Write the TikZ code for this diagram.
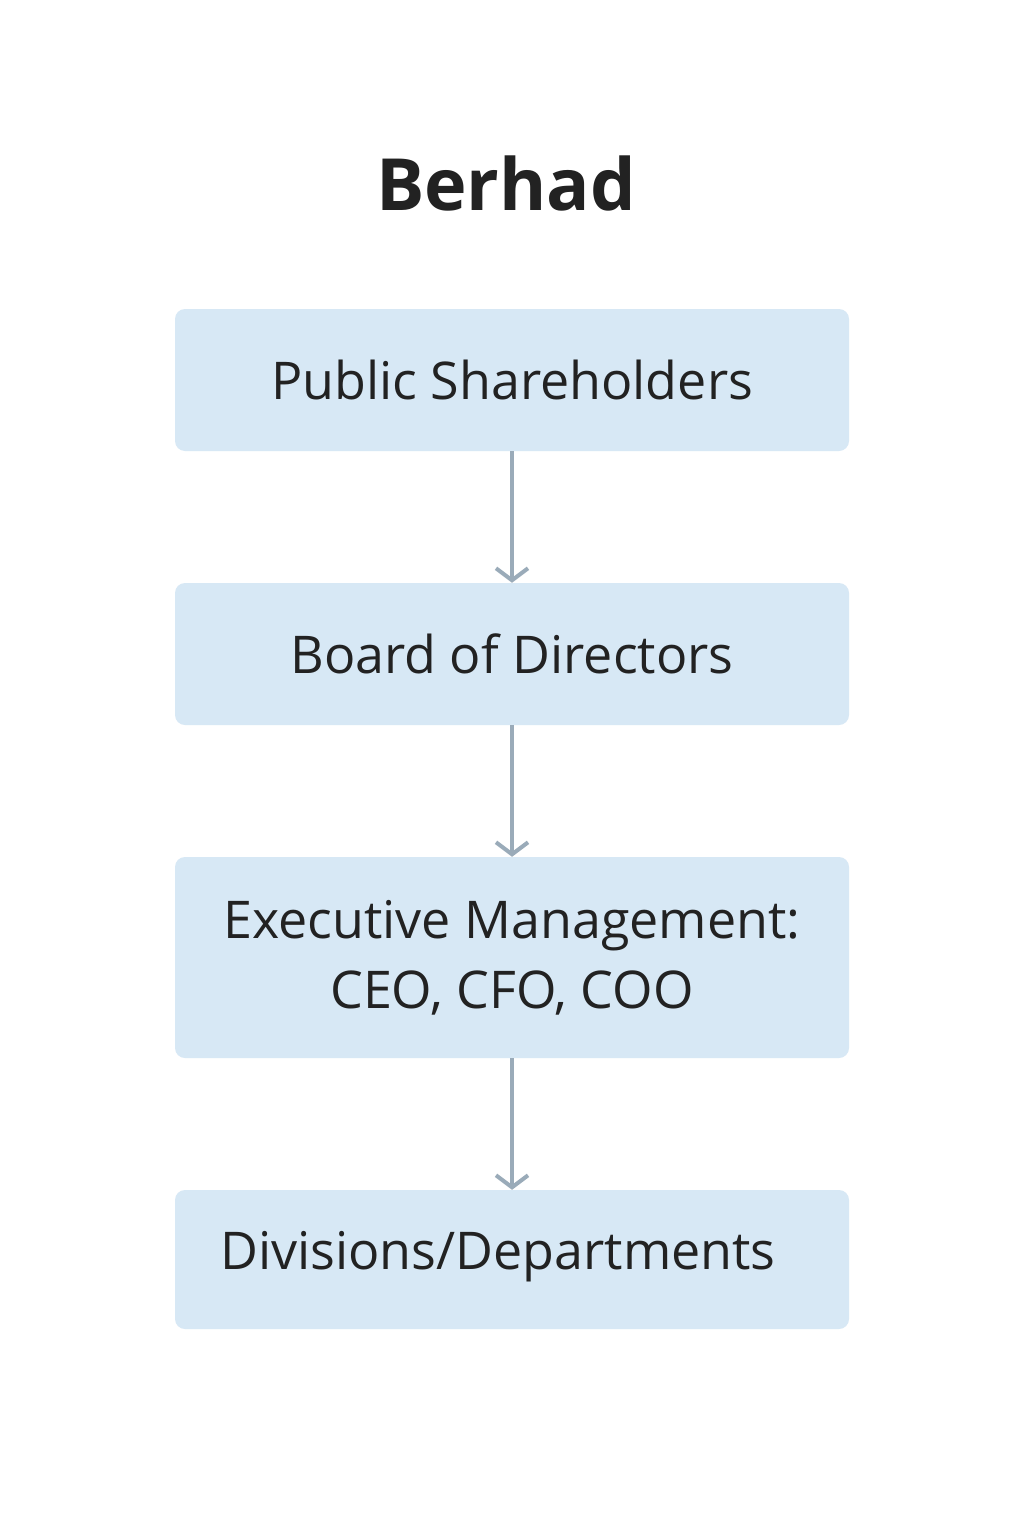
\documentclass[tikz,border=0pt]{standalone}
\usepackage{fontspec}
\setmainfont{Open Sans}
\usetikzlibrary{arrows.meta}
\definecolor{boxfill}{HTML}{D7E8F5}
\definecolor{arrowc}{HTML}{9AABB9}
\definecolor{txt}{HTML}{222222}
\begin{document}
\begin{tikzpicture}[x=1pt,y=-1pt,
  box/.style={fill=boxfill,draw=none,rounded corners=10pt,minimum width=674pt,align=center,text=txt,font=\fontsize{52}{70}\selectfont},
  conn/.style={draw=arrowc,line width=4pt,-{Straight Barb[length=12pt,width=32pt,line width=4pt]}}]
\useasboundingbox (0,0) rectangle (1024,1536);
\fill[white] (0,0) rectangle (1024,1536);
\node[font=\fontsize{72}{86}\selectfont\bfseries,text=txt] (title) at (506,183) {Berhad};
\node[box,minimum height=142pt] (a) at (512,380) {Public Shareholders};
\node[box,minimum height=142pt] (b) at (512,654) {Board of Directors};
\node[box,minimum height=201pt] (c) at (512,957.5) {Executive Management:\\CEO, CFO, COO};
\node[box,minimum height=139pt] (d) at (512,1259.5) {};
\node[text=txt,font=\fontsize{52}{70}\selectfont] (dt) at (498,1257) {Divisions/Departments};
\draw[conn] (a.south) -- (b.north);
\draw[conn] (b.south) -- (c.north);
\draw[conn] (c.south) -- (d.north);
\end{tikzpicture}
\end{document}
